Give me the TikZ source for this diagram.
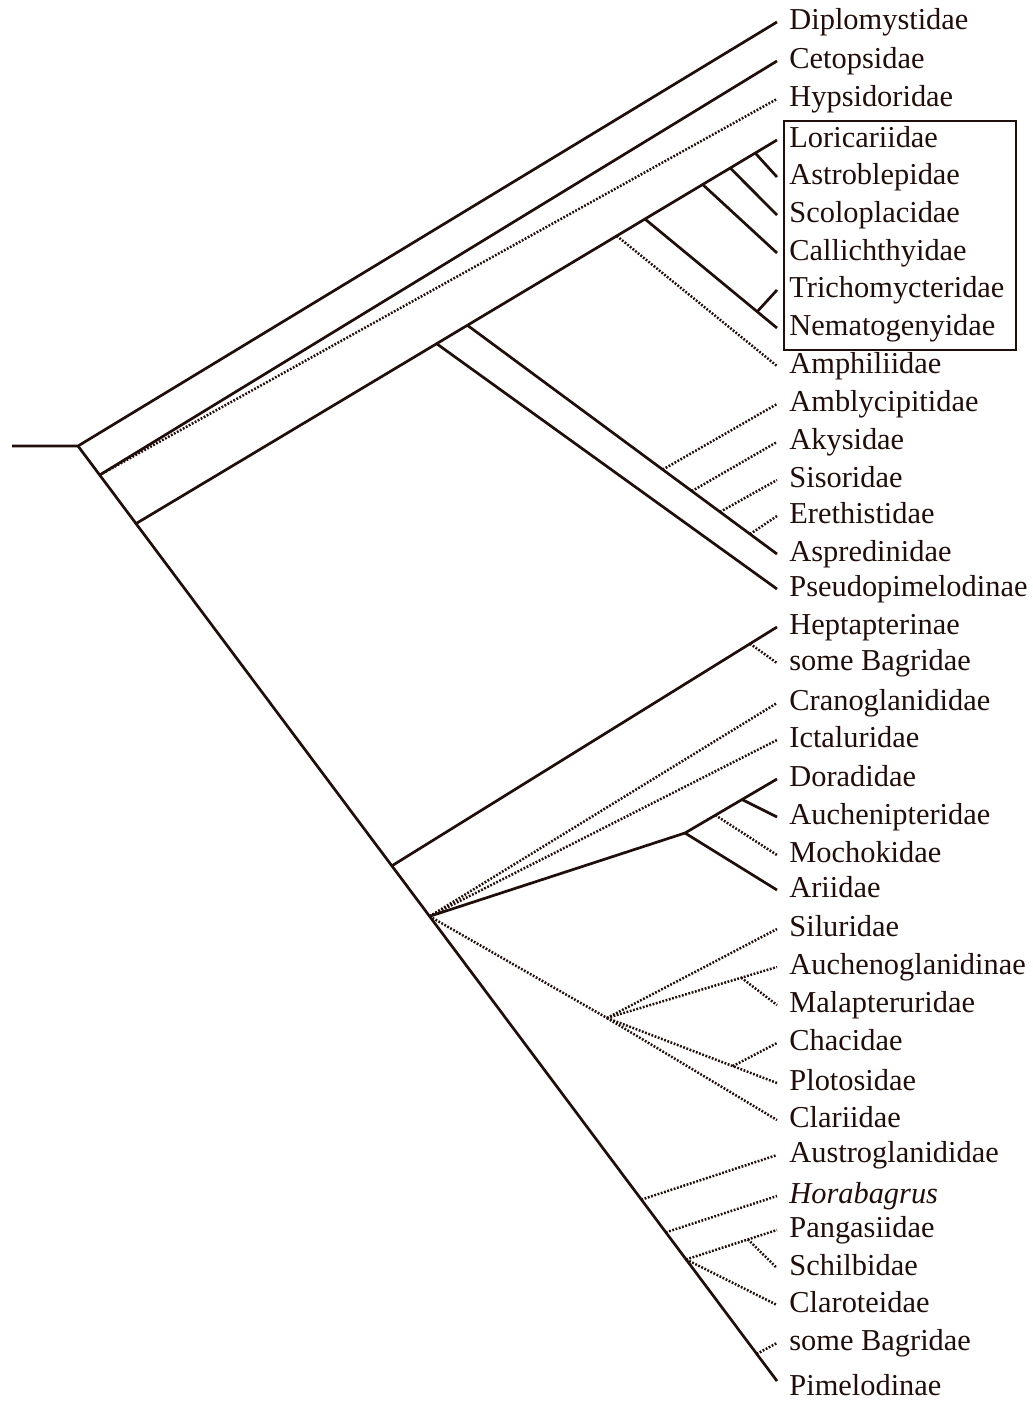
\documentclass[tikz,border=0pt]{standalone}
\usepackage{fontspec}
\setmainfont{Liberation Serif}
\usetikzlibrary{calc}
\definecolor{ink}{RGB}{32,14,10}

\begin{document}
\begin{tikzpicture}[x=0.5pt, y=-0.5pt,
  taxon/.style={anchor=west, inner xsep=6pt, inner ysep=0pt, text height=0.78em, text depth=0.07em,
                font=\fontsize{15.2}{18}\selectfont, text=ink},
  br/.style={draw=ink, line width=1.35pt},
  dotbr/.style={draw=ink, line width=1.25pt, dash pattern=on 0.9pt off 0.8pt},
]
  \useasboundingbox (0,0) rectangle (1033,1403);

  \foreach \id/\y/\txt in {
      dipl/22/Diplomystidae, ceto/61/Cetopsidae, hyps/99/Hypsidoridae,
      lori/140/Loricariidae, astr/177/Astroblepidae, scol/215/Scoloplacidae,
      call/253/Callichthyidae, tric/290/Trichomycteridae, nema/328/Nematogenyidae,
      amph/366/Amphiliidae, ambl/404/Amblycipitidae, akys/442/Akysidae,
      siso/480/Sisoridae, eret/516/Erethistidae, aspr/554/Aspredinidae,
      pseu/589/Pseudopimelodinae, hept/627/Heptapterinae, sbagA/663/some Bagridae,
      cran/703/Cranoglanididae, icta/740/Ictaluridae, dora/779/Doradidae,
      auch/817/Auchenipteridae, moch/855/Mochokidae, arii/890/Ariidae,
      silu/929/Siluridae, augl/967/Auchenoglanidinae, mala/1005/Malapteruridae,
      chac/1043/Chacidae, plot/1083/Plotosidae, clar/1120/Clariidae,
      aust/1155/Austroglanididae, hora/1196/{\itshape Horabagrus}, pang/1230/Pangasiidae,
      schi/1268/Schilbidae, clrt/1305/Claroteidae, sbagB/1343/some Bagridae,
      pime/1388/Pimelodinae}
    \node[taxon] (\id) at (777,\y) {\txt};

  \draw[draw=ink, line width=1.2pt] (784,121) rectangle (1016,350);

  % trunk
  \coordinate (stem) at (12,446);
  \coordinate (n1) at (78,446);
  \coordinate (pimetip) at ($(pime.west)+(0,-7)$);
  \draw[br] (stem) -- (n1) -- (dipl.west);
  \draw[br] (n1) -- (pimetip);
  \coordinate (n2) at ($(n1)!0.031!(pimetip)$);
  \coordinate (n3) at ($(n1)!0.083!(pimetip)$);
  \coordinate (nH) at ($(n1)!0.449!(pimetip)$);
  \coordinate (nI) at ($(n1)!0.503!(pimetip)$);
  \coordinate (nP) at ($(n1)!0.806!(pimetip)$);
  \coordinate (nQ) at ($(n1)!0.841!(pimetip)$);
  \coordinate (nR) at ($(n1)!0.870!(pimetip)$);
  \coordinate (nT) at ($(n1)!0.971!(pimetip)$);

  \draw[br] (n2) -- (ceto.west);
  \draw[dotbr] (n2) -- (hyps.west);

  % loricarioids and sisoroids
  \draw[br] (n3) -- (lori.west);
  \coordinate (nA) at ($(n3)!0.469!(lori.west)$);
  \coordinate (nB) at ($(n3)!0.517!(lori.west)$);
  \coordinate (nC) at ($(n3)!0.750!(lori.west)$);
  \coordinate (nD) at ($(n3)!0.794!(lori.west)$);
  \coordinate (nE) at ($(n3)!0.884!(lori.west)$);
  \coordinate (nF) at ($(n3)!0.927!(lori.west)$);
  \coordinate (nG) at ($(n3)!0.966!(lori.west)$);
  \draw[br] (nG) -- (astr.west);
  \draw[br] (nF) -- (scol.west);
  \draw[br] (nE) -- (call.west);
  \draw[br] (nD) -- (nema.west);
  \draw[br] ($(nD)!0.85!(nema.west)$) -- (tric.west);
  \draw[dotbr] (nC) -- (amph.west);
  \draw[br] (nA) -- (pseu.west);
  \draw[br] (nB) -- (aspr.west);
  \draw[dotbr] ($(nB)!0.631!(aspr.west)$) -- (ambl.west);
  \draw[dotbr] ($(nB)!0.725!(aspr.west)$) -- (akys.west);
  \draw[dotbr] ($(nB)!0.816!(aspr.west)$) -- (siso.west);
  \draw[dotbr] ($(nB)!0.913!(aspr.west)$) -- (eret.west);

  % middle clades
  \draw[br] (nH) -- (hept.west);
  \draw[dotbr] ($(nH)!0.93!(hept.west)$) -- (sbagA.west);
  \draw[dotbr] (nI) -- (cran.west);
  \draw[dotbr] (nI) -- (icta.west);
  \coordinate (nJ) at (685,833);
  \draw[br] (nI) -- (nJ) -- (dora.west);
  \draw[br] (nJ) -- (arii.west);
  \draw[br] ($(nJ)!0.62!(dora.west)$) -- (auch.west);
  \draw[dotbr] ($(nJ)!0.33!(dora.west)$) -- (moch.west);
  \coordinate (nM) at (607,1018);
  \draw[dotbr] (nI) -- (nM);
  \draw[dotbr] (nM) -- (silu.west);
  \draw[dotbr] (nM) -- (augl.west);
  \draw[dotbr] ($(nM)!0.79!(augl.west)$) -- (mala.west);
  \draw[dotbr] (nM) -- (plot.west);
  \draw[dotbr] ($(nM)!0.74!(plot.west)$) -- (chac.west);
  \draw[dotbr] (nM) -- (clar.west);

  % lower clades
  \draw[dotbr] (nP) -- (aust.west);
  \draw[dotbr] (nQ) -- (hora.west);
  \draw[dotbr] (nR) -- (pang.west);
  \draw[dotbr] ($(nR)!0.68!(pang.west)$) -- (schi.west);
  \draw[dotbr] (nR) -- (clrt.west);
  \draw[dotbr] (nT) -- (sbagB.west);
\end{tikzpicture}
\end{document}
